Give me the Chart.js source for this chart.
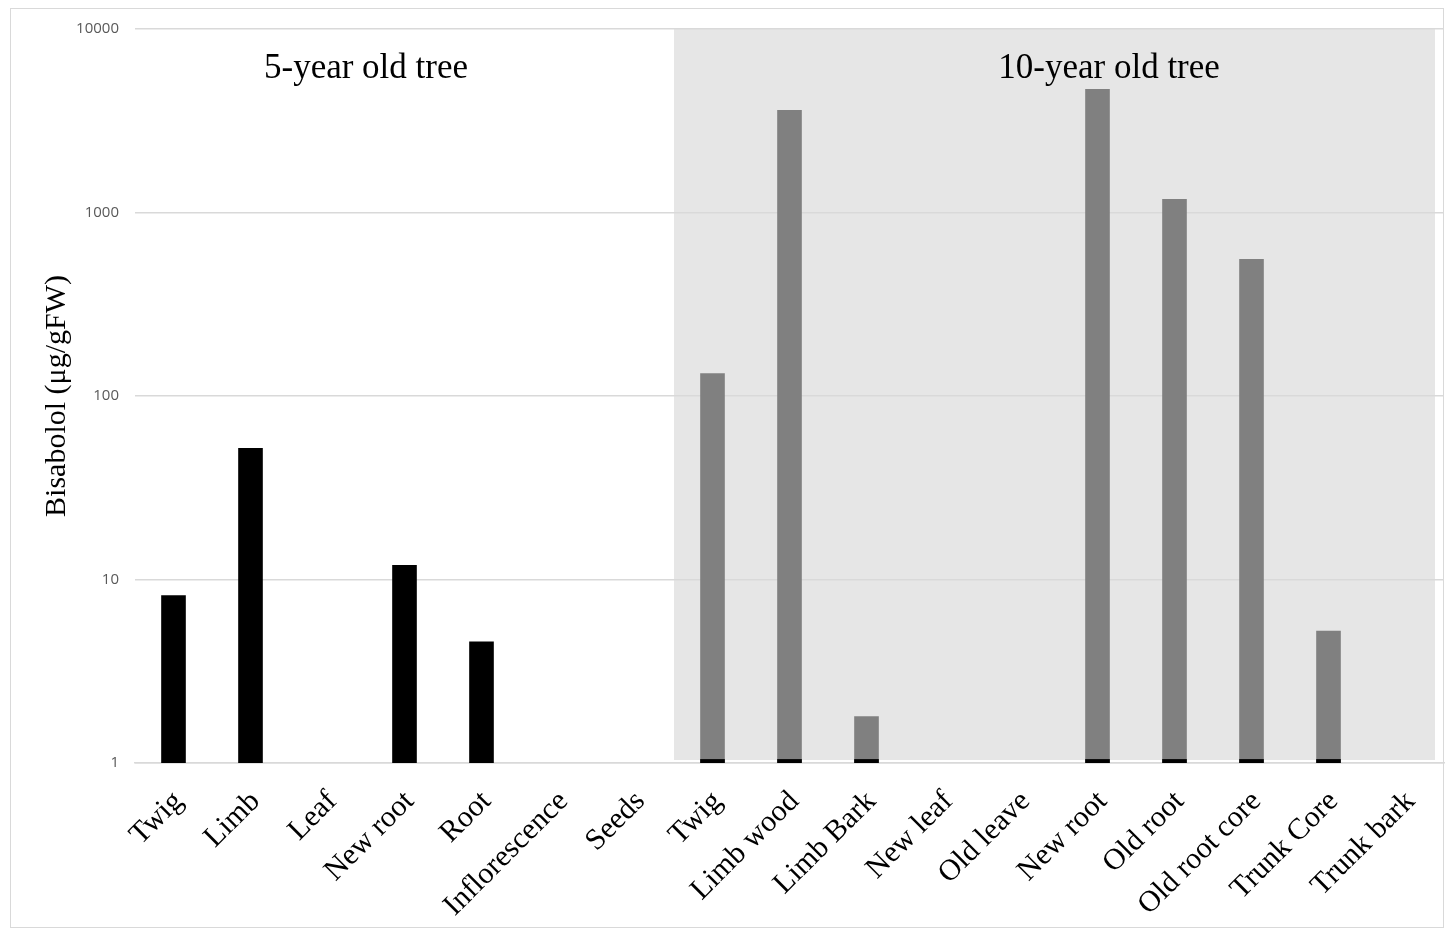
<!DOCTYPE html>
<html>
<head>
<meta charset="utf-8">
<script src="https://cdn.jsdelivr.net/npm/chart.js@4"></script>
<style>
  html, body { margin: 0; padding: 0; background: #ffffff; }
  #wrap { position: relative; width: 1448px; height: 933px; overflow: hidden; }
  #c { position: absolute; left: 0; top: 0; }
  #frame { position: absolute; left: 10px; top: 8px; width: 1434px; height: 920px;
           border: 1.5px solid #d9d9d9; box-sizing: border-box; pointer-events: none; }
</style>
</head>
<body>
<div id="wrap">
  <canvas id="c" width="1448" height="933"></canvas>
  <div id="frame"></div>
</div>
<script>
// ---- data ----
const categories = [
  "Twig", "Limb", "Leaf", "New root", "Root", "Inflorescence", "Seeds",
  "Twig", "Limb wood", "Limb Bark", "New leaf", "Old leave", "New root",
  "Old root", "Old root core", "Trunk Core", "Trunk bark"
];
const fiveYearValues = [8.2, 52, null, 12.0, 4.6, null, null,
  null, null, null, null, null, null, null, null, null, null];
const tenYearValues = [null, null, null, null, null, null, null,
  133, 3620, 1.8, null, null, 4710, 1185, 558, 5.25, null];
const yTickValues = [1, 10, 100, 1000, 10000];
const groupLabels = ["5-year old tree", "10-year old tree"];
const groupLabelPositions = [2.5, 12.15];   // category-index positions of the group captions
const tenYearStartIndex = 7;
const baseBandTop = 1.05;

// base band (thin black strip at the foot of each 10-year bar)
const baseBand = tenYearValues.map(v => (v === null ? null : [1, baseBandTop]));

const shadePlugin = {
  id: 'shade',
  beforeDraw(chart) {
    const xs = chart.scales.x, ys = chart.scales.y, ctx = chart.ctx;
    const step = xs.getPixelForValue(1) - xs.getPixelForValue(0);
    const left = xs.getPixelForValue(tenYearStartIndex) - step / 2;
    const right = xs.getPixelForValue(categories.length - 1) + step / 2 - 9;
    const top = ys.getPixelForValue(10000);
    const bottom = ys.getPixelForValue(1) - 3;
    ctx.save();
    ctx.fillStyle = '#e6e6e6';
    ctx.fillRect(left, top, right - left, bottom - top);
    ctx.restore();
  },
  afterDraw(chart) {
    const xs = chart.scales.x, ctx = chart.ctx;
    ctx.save();
    ctx.fillStyle = '#000000';
    ctx.font = '35px "Liberation Serif", "Times New Roman", serif';
    ctx.textAlign = 'center';
    ctx.textBaseline = 'middle';
    groupLabels.forEach((t, i) => {
      ctx.fillText(t, xs.getPixelForValue(groupLabelPositions[i]), chart.chartArea.top + 40);
    });
    ctx.restore();
  }
};

new Chart(document.getElementById('c'), {
  type: 'bar',
  data: {
    labels: categories,
    datasets: [
      { label: 'base', data: baseBand, backgroundColor: '#000000', order: 0,
        barPercentage: 0.32, categoryPercentage: 1.0 },
      { label: '5-year', data: fiveYearValues, backgroundColor: '#000000', order: 1,
        barPercentage: 0.32, categoryPercentage: 1.0 },
      { label: '10-year', data: tenYearValues, backgroundColor: '#808080', order: 1,
        barPercentage: 0.32, categoryPercentage: 1.0 }
    ]
  },
  options: {
    responsive: false,
    animation: false,
    devicePixelRatio: 1,
    grouped: false,
    layout: { padding: { top: 29, right: 4, left: 0, bottom: 0 } },
    plugins: { legend: { display: false }, tooltip: { enabled: false } },
    scales: {
      x: {
        grid: { display: false, drawTicks: false },
        border: { display: true, color: '#d9d9d9', width: 1.5 },
        ticks: {
          minRotation: 45, maxRotation: 45, autoSkip: false, padding: 21, labelOffset: 5,
          color: '#000000',
          font: { family: '"Liberation Serif", "Times New Roman", serif', size: 30 }
        },
        afterFit(s) { s.height = 170; s.paddingRight = 0; s.paddingLeft = 0; }
      },
      y: {
        type: 'logarithmic',
        min: 1, max: 10000,
        grid: { color: '#d9d9d9', lineWidth: 1.5, drawTicks: false },
        border: { display: false },
        afterBuildTicks(s) { s.ticks = yTickValues.map(v => ({ value: v })); },
        ticks: {
          padding: 16, color: '#595959',
          font: { family: '"Open Sans", "Liberation Sans", sans-serif', size: 15 },
          callback: v => String(v)
        },
        title: {
          display: true, text: 'Bisabolol (μg/gFW)', color: '#000000',
          padding: { top: 39, bottom: 0 },
          font: { family: '"Liberation Serif", "Times New Roman", serif', size: 30, weight: 'normal' }
        },
        afterFit(s) { s.width = 135; }
      }
    }
  },
  plugins: [shadePlugin]
});
</script>
</body>
</html>
